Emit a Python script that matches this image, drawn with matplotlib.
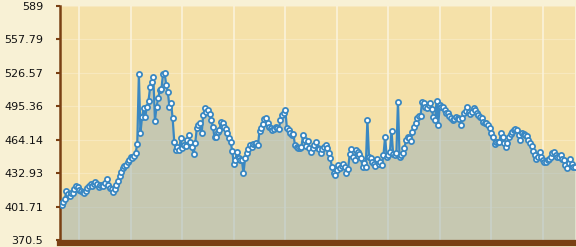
import numpy as np
import matplotlib
matplotlib.use("Agg")
import matplotlib.pyplot as plt

# values, left to right
values = [
    404.5, 403.0, 406.0, 409.0, 416.0, 413.5, 412.0, 414.5, 414.5, 418.0,
    421.0, 420.0, 417.0, 416.5, 415.5, 414.0, 416.5, 419.0, 421.0, 423.0,
    421.0, 422.5, 424.5, 423.0, 420.0, 422.0, 421.5, 421.0, 424.0, 427.0,
    421.5, 419.0, 418.5, 415.0, 418.0, 421.5, 426.0, 430.0, 434.0, 438.0,
    440.0, 440.5, 443.0, 445.0, 448.0, 447.0, 448.5, 452.0, 460.0,
    525.5, 470.7, 485.6, 493.5, 485.6, 495.0, 500.6, 513.1, 518.3,
    522.4, 481.9, 495.0, 502.8, 510.6, 511.2, 525.5, 526.7, 515.2,
    508.5, 495.0, 498.7, 484.0, 462.0, 455.0, 457.6, 454.5,
    465.4, 456.0, 459.2, 458.3, 463.9, 468.5, 462.3, 457.6, 450.8, 460.8,
    474.8, 477.9, 480.0, 470.1, 487.2, 493.4, 490.3, 491.9, 488.1, 482.5,
    476.3, 466.4, 467.0, 471.6, 473.2, 481.0, 479.5, 476.3, 474.0, 470.7,
    465.4, 462.3, 453.9, 441.5, 445.2, 453.0, 446.8, 445.2, 445.2, 432.8,
    446.8, 451.4, 455.2, 459.2, 457.1, 460.1, 460.5, 460.8, 459.2, 472.6,
    474.8, 478.8, 483.2, 484.1, 479.5, 476.3, 474.8, 473.2, 474.0, 476.3,
    474.8, 473.9, 482.5, 487.2, 488.8, 491.9, 474.8, 473.2, 470.7, 468.5,
    469.5, 459.2, 457.6, 456.1, 456.1, 457.1, 468.5, 463.9, 458.3, 463.2,
    456.0, 453.0, 456.1, 459.2, 462.3, 456.1, 455.2, 452.0, 455.2, 457.0,
    459.2, 456.1, 452.0, 446.8, 438.4, 433.3, 431.2, 435.9, 440.5, 437.4,
    439.5, 441.5, 439.0, 432.8, 436.5, 450.8, 455.2, 448.3, 445.2, 454.5,
    453.0, 450.8, 447.4, 438.4, 442.1, 439.0, 482.5, 448.3, 446.8, 443.6,
    441.5, 439.6, 445.8, 441.5, 443.6, 440.5, 449.9, 467.0, 448.3, 449.9,
    453.0, 472.6, 450.8, 449.9, 451.4, 499.6, 448.3, 449.9, 451.4, 456.1,
    463.9, 467.0, 465.4, 463.2, 471.6, 476.3, 479.5, 484.1, 486.3, 486.3,
    499.6, 498.1, 494.4, 493.4, 496.6, 498.7, 492.5, 485.6, 482.5, 500.6,
    477.9, 496.6, 495.0, 494.4, 491.9, 489.4, 489.4, 486.3, 484.1, 482.5,
    483.2, 485.0, 484.1, 483.2, 477.9, 484.1, 488.8, 491.2, 494.4, 490.3,
    488.1, 490.3, 493.4, 491.9, 489.4, 487.2, 485.0, 484.1, 481.0, 479.5,
    480.0, 477.9, 474.8, 470.1, 467.0, 460.1, 462.3, 462.3, 462.3, 470.7,
    466.4, 460.8, 457.1, 460.8, 466.4, 469.5, 471.6, 473.2, 473.9, 473.2,
    468.5, 463.9, 470.1, 469.5, 468.5, 467.6, 463.9, 460.8, 458.3, 453.9,
    449.9, 445.8, 448.3, 453.0, 448.3, 445.2, 443.6, 443.6, 445.2, 445.8,
    448.3, 451.4, 453.0, 449.9, 447.7, 447.7, 449.9, 446.5, 445.2, 440.5,
    437.4, 442.1, 445.8, 441.0, 439.0, 438.4,
]

y_min = 370.5
y_max = 589
y_ticks = np.linspace(y_min, y_max, 8)
y_labels = ["370.5", "401.71", "432.93", "464.14", "495.36", "526.57", "557.79", "589"]

brown = "#7a4013"
blue = "#3a88c2"

x = np.arange(len(values))

fig = plt.figure(figsize=(5.76, 2.47), dpi=100, facecolor="#f8f1d5")
ax = fig.add_axes([60 / 576, 7 / 247, 515 / 576, 234 / 247])
ax.set_facecolor("#f5e1a9")

ax.fill_between(x, values, y_min, color="#99b1b9", alpha=0.5, lw=0, zorder=2)
ax.plot(x, values, color=blue, lw=1.6, marker="o", markersize=3.7,
        markerfacecolor="white", markeredgecolor=blue, markeredgewidth=1.3,
        zorder=3)

ax.set_xlim(0, len(values) - 1)
ax.set_ylim(y_min, y_max)
ax.set_yticks(y_ticks)
ax.set_yticklabels(y_labels)
ax.set_xticks(np.arange(0.037, 1, 0.1) * (len(values) - 1))
ax.set_xticklabels([])

ax.grid(axis="x", color="#fbf4de", lw=1.1, zorder=1)
ax.grid(axis="y", color="#fbf4de", lw=0.8, alpha=0.4, zorder=1)
ax.set_axisbelow(True)

for side in ["top", "right"]:
    ax.spines[side].set_visible(False)
ax.spines["left"].set_color(brown)
ax.spines["left"].set_linewidth(1.8)
ax.spines["bottom"].set_color(brown)
ax.spines["bottom"].set_linewidth(4.5)
ax.spines["bottom"].set_position(("outward", 2))

ax.tick_params(axis="y", length=3, width=1.5, color=brown, pad=9,
               labelsize=8, labelcolor="#111111")
ax.tick_params(axis="x", length=0)

plt.savefig("out.png", dpi=100, facecolor=fig.get_facecolor())
